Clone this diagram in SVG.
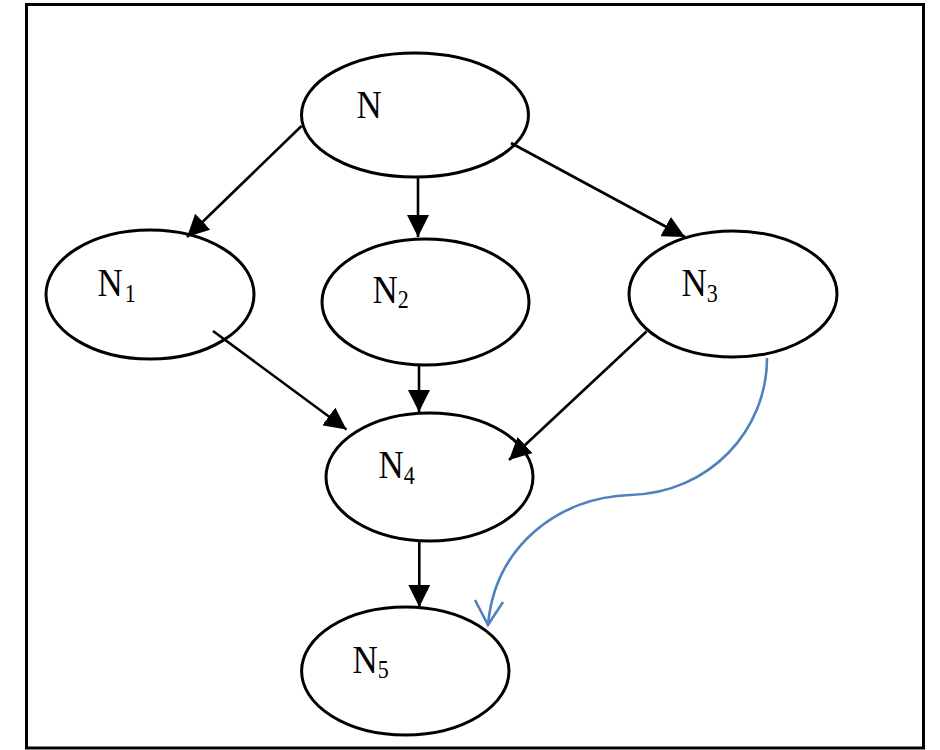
<svg xmlns="http://www.w3.org/2000/svg" width="940" height="750" viewBox="0 0 940 750">
<style>
.node ellipse{fill:#fff;stroke:#000;stroke-width:3}
.lbl{font-family:"Liberation Serif","Times New Roman",serif;font-size:35px;fill:#000}
.sub{font-size:22px}
.edge{stroke:#000;stroke-width:2.6;fill:none;marker-end:url(#ah)}
.blue{stroke:#4f81bd;stroke-width:2.6;fill:none}
</style>
<defs>
<marker id="ah" viewBox="0 0 22 22" markerWidth="22" markerHeight="22" refX="22" refY="11" orient="auto" markerUnits="userSpaceOnUse">
<path d="M0,0 L22,11 L0,22 Z" fill="#000"/>
</marker>
</defs>
<rect x="0" y="0" width="940" height="750" fill="#fff"/>
<rect x="26.5" y="4.5" width="897" height="743.5" fill="none" stroke="#000" stroke-width="3"/>
<g id="N" class="node">
<ellipse cx="415" cy="115" rx="113.5" ry="62"/>
<text class="lbl" transform="translate(356.5,117.5) scale(1,1.12)">N</text>
</g>
<g id="N1" class="node">
<ellipse cx="150" cy="294.5" rx="104" ry="64.5"/>
<text class="lbl" transform="translate(97.5,296) scale(1,1.12)">N<tspan class="sub" dx="2" dy="5">1</tspan></text>
</g>
<g id="N2" class="node">
<ellipse cx="425.5" cy="302" rx="103.5" ry="63"/>
<text class="lbl" transform="translate(372.5,302.5) scale(1,1.12)">N<tspan class="sub" dy="5">2</tspan></text>
</g>
<g id="N3" class="node">
<ellipse cx="733" cy="294" rx="104" ry="63"/>
<text class="lbl" transform="translate(681.5,296) scale(1,1.12)">N<tspan class="sub" dy="5">3</tspan></text>
</g>
<g id="N4" class="node">
<ellipse cx="429.5" cy="477" rx="103.5" ry="64"/>
<text class="lbl" transform="translate(378.5,478) scale(1,1.12)">N<tspan class="sub" dy="5">4</tspan></text>
</g>
<g id="N5" class="node">
<ellipse cx="405.3" cy="671" rx="103.7" ry="64"/>
<text class="lbl" transform="translate(352.5,672.5) scale(1,1.12)">N<tspan class="sub" dy="4.5">5</tspan></text>
</g>
<g id="connectors">
<line class="edge" x1="301.5" y1="126" x2="187" y2="237"/>
<line class="edge" x1="418" y1="177" x2="418" y2="237"/>
<line class="edge" x1="511" y1="143" x2="685" y2="237"/>
<line class="edge" x1="213" y1="331" x2="346.5" y2="429.5"/>
<line class="edge" x1="419" y1="366" x2="419" y2="412"/>
<line class="edge" x1="646.5" y1="331.5" x2="509" y2="460"/>
<line class="edge" x1="419.3" y1="541" x2="419.3" y2="607"/>
<path class="blue" d="M767,358 C767,430 710,493 630,495 C560,497 495,545 488,625"/>
<path class="blue" d="M475,600 L488,625 L503,602"/>
</g>
</svg>
